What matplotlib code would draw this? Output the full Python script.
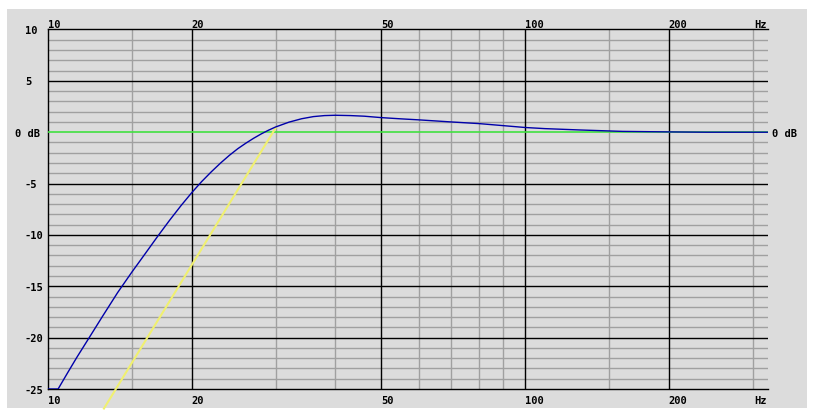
import matplotlib
matplotlib.use("Agg")
import matplotlib.pyplot as plt
from matplotlib.patches import Rectangle
import numpy as np

W, H = 816, 419

# blue response curve (Hz, dB)
blue_f = [10.0, 10.5, 11.0, 11.5, 12.2, 13.0, 14.0, 15.0, 16.0, 17.0, 18.0, 19.0,
          20.0, 21.0, 22.0, 23.0, 24.0, 25.0, 26.0, 27.0, 28.0, 29.0, 30.0,
          32.0, 34.0, 36.0, 38.0, 40.0, 43.0, 46.0, 50.0, 55.0, 60.0, 70.0,
          80.0, 90.0, 100.0, 110.0, 130.0, 160.0, 200.0, 240.0, 323.0]
blue_db = [-26.6, -25.0, -23.4, -21.9, -20.0, -17.95, -15.6, -13.6, -11.8, -10.1, -8.55, -7.15,
           -5.9, -4.8, -3.85, -3.0, -2.25, -1.6, -1.06, -0.58, -0.16, 0.2, 0.51,
           0.98, 1.31, 1.52, 1.62, 1.65, 1.62, 1.56, 1.42, 1.3, 1.2, 1.0,
           0.84, 0.64, 0.46, 0.35, 0.22, 0.08, 0.03, 0.0, 0.0]

# yellow asymptote
yellow_f = [13.1, 30.0]
yellow_db = [-26.9, 0.42]

# green reference
green_f = [10.0, 323.0]
green_db = [0.0, 0.0]

x_major = [20, 50, 100, 200]
x_minor = [15, 30, 40, 60, 70, 80, 90, 150, 300]
x_labels = [(10, "10"), (20, "20"), (50, "50"), (100, "100"), (200, "200")]
y_labels = [(10, "10"), (5, "5"), (0, "0 dB"), (-5, "-5"), (-10, "-10"),
            (-15, "-15"), (-20, "-20"), (-25, "-25")]

bg = "#dcdcdc"
grid_gray = "#a0a0a0"

fig = plt.figure(figsize=(W / 100, H / 100), dpi=100)
fig.patch.set_facecolor("white")


def fx(x):
    return x / W


def fy(y):
    return 1 - y / H


fig.patches.append(Rectangle((fx(7), fy(408)), fx(807) - fx(7), fy(9) - fy(408),
                             transform=fig.transFigure, facecolor=bg,
                             edgecolor="none", zorder=-10))

left, right, top, bottom = 48, 768, 29.5, 389
ax = fig.add_axes([fx(left), fy(bottom), fx(right) - fx(left), fy(top) - fy(bottom)])
ax.set_zorder(1)
ax.set_facecolor(bg)
ax.set_xscale("log")
ax.set_xlim(10, 323)
ax.set_ylim(-25, 10)
ax.set_xticks([])
ax.set_yticks([])
ax.xaxis.set_minor_locator(matplotlib.ticker.NullLocator())

for s in ["top", "bottom", "left"]:
    ax.spines[s].set_color("black")
    ax.spines[s].set_linewidth(1)
ax.spines["right"].set_visible(False)

for v in range(-24, 10):
    if v % 5 != 0:
        ax.axhline(v, color=grid_gray, lw=1, zorder=1)
    elif v != 0:
        ax.axhline(v, color="black", lw=1, zorder=1.5)
for f in x_minor:
    ax.axvline(f, color=grid_gray, lw=1, zorder=1)
for f in x_major:
    ax.axvline(f, color="black", lw=1, zorder=1.5)

ax.plot(green_f, green_db, color="#40e040", lw=1.2, zorder=3)
ax.plot(yellow_f, yellow_db, color="#f0f070", lw=1.5, zorder=3, clip_on=False)
ax.plot(blue_f, np.maximum(blue_db, -25), color="#0000aa", lw=1, zorder=4)

font = dict(family="DejaVu Sans Mono", weight="bold", size=7.5, color="black")

# x labels top and bottom
decade = (right - left) / np.log10(323 / 10)
for f, lab in x_labels:
    xp = left + decade * np.log10(f / 10)
    fig.text(fx(xp), fy(28.5), lab, ha="left", va="baseline", **font)
    fig.text(fx(xp), fy(403.5), lab, ha="left", va="baseline", **font)
fig.text(fx(767), fy(28.5), "Hz", ha="right", va="baseline", **font)
fig.text(fx(767), fy(403.5), "Hz", ha="right", va="baseline", **font)

# y labels
px_db = (bottom - top) / 35
for v, lab in y_labels:
    yp = top + (10 - v) * px_db
    xs = 15 if lab == "0 dB" else 25
    fig.text(fx(xs), fy(yp + 4.5), lab, ha="left", va="baseline", **font)
fig.text(fx(772), fy(top + 10 * px_db + 4.5), "0 dB", ha="left", va="baseline", **font)

fig.savefig("out.png", dpi=100)
